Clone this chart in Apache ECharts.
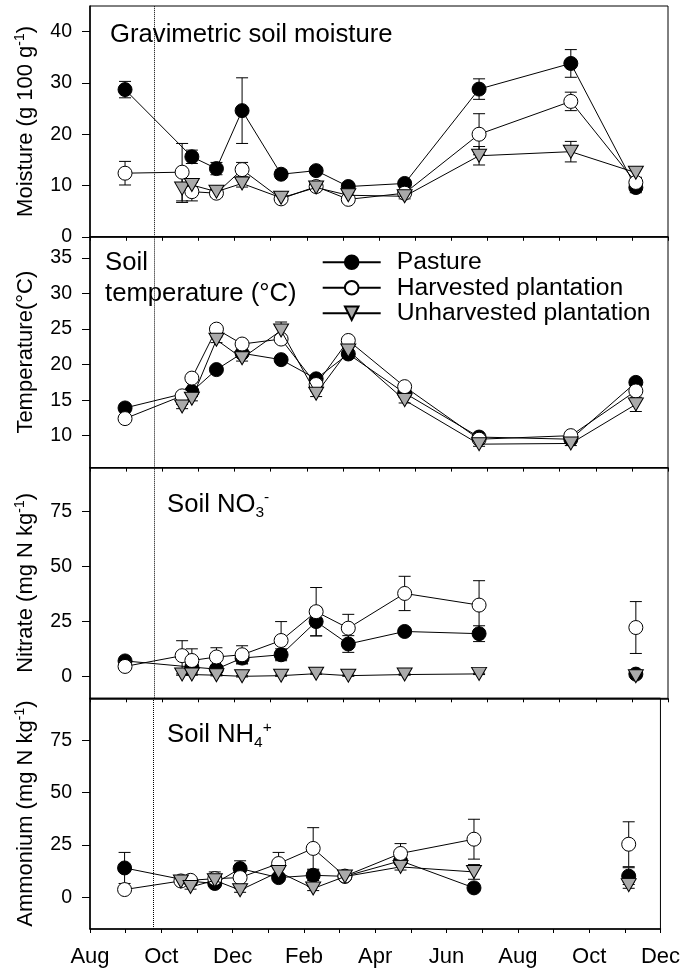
<!DOCTYPE html>
<html>
<head>
<meta charset="utf-8">
<script src="https://cdn.jsdelivr.net/npm/echarts@6/dist/echarts.min.js"></script>
<style>
  html, body { margin: 0; padding: 0; background: #fff; }
  #chart { width: 683px; height: 973px; }
</style>
</head>
<body>
<div id="chart"></div>
<script>
// Sampling times, in months after 1 August of the first year
const sampleMonths = [0.97, 2.55, 2.82, 3.5, 4.21, 5.29, 6.26, 7.15, 8.71, 10.77, 13.31, 15.11];
const monthLabels = ['Aug', 'Oct', 'Dec', 'Feb', 'Apr', 'Jun', 'Aug', 'Oct', 'Dec'];
const treatments = ['Pasture', 'Harvested plantation', 'Unharvested plantation'];
// Harvest date (dotted line)
const harvestMonth = 1.77;

// null = not sampled, '-' = break in the line
const moisturePasture      = [28.7, null, 15.6, 13.3, 24.6, 12.2, 12.9, 9.8, 10.4, 28.8, 33.8, 9.6];
const moistureHarvested    = [12.4, 12.6, 8.8, 8.5, 13.1, 7.4, 9.8, 7.3, 8.5, 20.0, 26.4, 10.6];
const moistureUnharvested  = [null, 9.4, 10.1, 8.8, 10.4, 7.6, 9.6, 8.1, 7.9, 15.8, 16.6, 12.5];
const moisturePastureErr     = [1.6, null, 1.3, 1.2, 6.4, 0.8, 0.7, 0.6, 0.6, 2.0, 2.7, 1.0];
const moistureHarvestedErr   = [2.3, 5.6, 1.8, 0.7, 1.4, 0.5, 0.6, 0.6, 0.5, 4.0, 1.8, 1.0];
const moistureUnharvestedErr = [null, 2.7, 0.8, 0.7, 0.7, 0.5, 0.5, 0.5, 0.5, 1.8, 2.0, 1.0];

const tempPasture      = [13.9, null, 16.2, 19.3, 21.6, 20.7, 18.0, 21.5, 16.0, 9.8, 9.5, 17.5];
const tempHarvested    = [12.4, 15.6, 18.1, 25.0, 22.9, 23.6, 17.2, 23.4, 16.9, 9.5, 10.0, 16.3];
const tempUnharvested  = [null, 14.1, 15.2, 23.5, 20.9, 24.8, 15.9, 22.0, 15.0, 8.8, 8.9, 14.4];
const tempPastureErr     = [0.4, null, 0.4, 0.4, 0.4, 0.4, 0.4, 0.4, 0.4, 0.3, 0.3, 0.5];
const tempHarvestedErr   = [0.3, 0.3, 0.3, 0.4, 0.4, 0.4, 0.4, 0.4, 0.4, 0.3, 0.3, 0.4];
const tempUnharvestedErr = [null, 0.3, 0.3, 0.4, 0.4, 1.2, 0.4, 0.4, 0.4, 0.3, 0.3, 1.0];

const nitratePasture      = [7.0, null, 4.2, 3.3, 8.3, 9.8, 24.9, 14.7, 20.4, 19.4, '-', 1.0];
const nitrateHarvested    = [4.5, 9.4, 7.2, 8.8, 9.8, 16.3, 29.4, 21.9, 37.7, 32.4, '-', 22.2];
const nitrateUnharvested  = [null, 0.8, 0.8, 0.5, 0.0, 0.3, 1.2, 0.3, 0.8, 1.1, '-', 0.0];
const nitratePastureErr     = [1.0, null, 1.5, 1.5, 2.6, 2.7, 6.5, 3.8, 1.5, 3.6, null, 0.8];
const nitrateHarvestedErr   = [0.8, 6.8, 5.3, 4.2, 4.1, 8.6, 11.0, 6.3, 7.8, 11.1, null, 11.8];
const nitrateUnharvestedErr = [null, 0.3, 0.3, 0.3, 0.3, 0.3, 0.3, 0.3, 0.3, 0.3, null, 0.3];

const ammoniumPasture      = [14.1, null, 7.8, 6.7, 13.8, 9.5, 10.6, 10.1, 17.5, 4.6, '-', 10.2];
const ammoniumHarvested    = [3.8, 7.9, 8.2, 9.0, 9.5, 16.2, 23.4, 10.2, 21.0, 27.8, '-', 25.4];
const ammoniumUnharvested  = [null, 7.6, 5.0, 8.2, 3.5, 12.2, 4.3, 10.0, 14.6, 12.2, '-', 5.9];
const ammoniumPastureErr     = [7.4, null, 1.0, 1.0, 3.7, 1.5, 2.5, 1.5, 1.5, 1.0, null, 4.0];
const ammoniumHarvestedErr   = [0.8, 1.0, 1.0, 3.2, 1.2, 5.3, 9.9, 1.5, 4.7, 9.5, null, 10.7];
const ammoniumUnharvestedErr = [null, 1.0, 1.0, 1.5, 1.0, 1.5, 1.0, 1.0, 1.5, 3.5, null, 1.5];

// Y-axis extents and labelled ticks per panel
const yExtents = [[0, 45], [5.5, 38], [-10, 95], [-15, 95]];
const yTickValues = [[0, 10, 20, 30, 40], [10, 15, 20, 25, 30, 35], [0, 25, 50, 75], [0, 25, 50, 75]];

const panels = [
  { values: [moisturePasture, moistureHarvested, moistureUnharvested],
    errors: [moisturePastureErr, moistureHarvestedErr, moistureUnharvestedErr],
    name: '{t|Moisture (g 100 g}{s|-1}{t|)}' },
  { values: [tempPasture, tempHarvested, tempUnharvested],
    errors: [tempPastureErr, tempHarvestedErr, tempUnharvestedErr],
    name: '{t|Temperature(°C)}' },
  { values: [nitratePasture, nitrateHarvested, nitrateUnharvested],
    errors: [nitratePastureErr, nitrateHarvestedErr, nitrateUnharvestedErr],
    name: '{t|Nitrate (mg N kg}{s|-1}{t|)}' },
  { values: [ammoniumPasture, ammoniumHarvested, ammoniumUnharvested],
    errors: [ammoniumPastureErr, ammoniumHarvestedErr, ammoniumUnharvestedErr],
    name: '{t|Ammonium (mg N kg}{s|-1}{t|)}' }
];

const FONT = '"Liberation Sans", Arial, Helvetica, sans-serif';
const gridTops = [6, 236.8, 467.5, 698.2];
const gridHeight = 230.8;

const markerStyles = [
  { symbol: 'circle', symbolSize: 14, symbolRotate: 0, fill: '#000000' },
  { symbol: 'circle', symbolSize: 14, symbolRotate: 0, fill: '#ffffff' },
  { symbol: 'triangle', symbolSize: [15, 13], symbolRotate: 180, fill: '#aaaaaa' }
];

function errorBarItem(params, api) {
  const x = api.value(0), y = api.value(1), e = api.value(2);
  const hi = api.coord([x, y + e]);
  const lo = api.coord([x, y - e]);
  const half = 6;
  const st = { stroke: '#000', lineWidth: 1 };
  return {
    type: 'group',
    children: [
      { type: 'line', shape: { x1: hi[0], y1: hi[1], x2: lo[0], y2: lo[1] }, style: st },
      { type: 'line', shape: { x1: hi[0] - half, y1: hi[1], x2: hi[0] + half, y2: hi[1] }, style: st },
      { type: 'line', shape: { x1: lo[0] - half, y1: lo[1], x2: lo[0] + half, y2: lo[1] }, style: st }
    ]
  };
}

const grids = [], xAxes = [], yAxes = [], series = [];

panels.forEach((p, gi) => {
  grids.push({
    left: 90, right: 15, top: gridTops[gi], height: gridHeight,
    show: true, borderColor: '#000', borderWidth: 1, backgroundColor: 'transparent'
  });
  xAxes.push({
    type: 'value', gridIndex: gi, min: 0, max: 16, interval: 2,
    axisLine: { show: true, onZero: false, lineStyle: { color: '#000', width: 1.5 } },
    axisTick: { show: true, inside: false, length: 4, lineStyle: { color: '#000', width: 1 } },
    minorTick: { show: true, splitNumber: 2, length: 4, lineStyle: { color: '#000', width: 1 } },
    splitLine: { show: false },
    minorSplitLine: { show: false },
    axisLabel: gi === 3 ? {
      show: true, margin: 17, fontSize: 22, fontFamily: FONT, color: '#000',
      formatter: v => monthLabels[Math.round(v / 2)] || ''
    } : { show: false }
  });
  yAxes.push({
    type: 'value', gridIndex: gi, min: yExtents[gi][0], max: yExtents[gi][1],
    axisLine: { show: true, onZero: false, lineStyle: { color: '#000', width: 1.5 } },
    axisTick: { show: true, inside: false, length: 8, customValues: yTickValues[gi], lineStyle: { color: '#000', width: 1 } },
    axisLabel: { show: true, customValues: yTickValues[gi], margin: 18, fontSize: 19.5, fontFamily: FONT, color: '#000' },
    splitLine: { show: false },
    name: p.name, nameLocation: 'middle', nameGap: 51,
    nameTextStyle: {
      color: '#000',
      rich: {
        t: { fontSize: 22, fontFamily: FONT, color: '#000', lineHeight: 26 },
        s: { fontSize: 14, fontFamily: FONT, color: '#000', lineHeight: 14, verticalAlign: 'top' }
      }
    }
  });

  // error bars beneath the markers
  p.errors.forEach((errs, ti) => {
    const data = [];
    sampleMonths.forEach((m, i) => {
      const v = p.values[ti][i];
      if (typeof v === 'number' && errs[i] != null) data.push([m, v, errs[i]]);
    });
    series.push({
      type: 'custom', name: treatments[ti] + ' SE', xAxisIndex: gi, yAxisIndex: gi,
      renderItem: errorBarItem, encode: { x: 0, y: 1 }, data: data, z: 2, silent: true
    });
  });

  p.values.forEach((vals, ti) => {
    const ms = markerStyles[ti];
    const data = [];
    sampleMonths.forEach((m, i) => { if (vals[i] !== null) data.push([m, vals[i]]); });
    const s = {
      type: 'line', name: treatments[ti], xAxisIndex: gi, yAxisIndex: gi,
      data: data, connectNulls: false, z: 3 + ti,
      symbol: ms.symbol, symbolSize: ms.symbolSize, symbolRotate: ms.symbolRotate,
      showSymbol: true, showAllSymbol: true,
      lineStyle: { color: '#000', width: 1 },
      itemStyle: { color: ms.fill, borderColor: '#000', borderWidth: 1 },
      emphasis: { disabled: true }
    };
    if (ti === 0) {
      s.markLine = {
        silent: true, symbol: 'none', label: { show: false },
        lineStyle: { color: '#000', type: 'dotted', width: 1 },
        data: [{ xAxis: harvestMonth }]
      };
    }
    series.push(s);
  });
});

const TITLE_SIZE = 25.7;
const richTitle = {
  m: { fontSize: TITLE_SIZE, fontFamily: FONT, color: '#000', lineHeight: 31 },
  sub: { fontSize: 15.5, fontFamily: FONT, color: '#000', lineHeight: 15, verticalAlign: 'bottom' },
  sup: { fontSize: 15.5, fontFamily: FONT, color: '#000', lineHeight: 15, verticalAlign: 'top' }
};

const option = {
  animation: false,
  backgroundColor: '#fff',
  grid: grids,
  xAxis: xAxes,
  yAxis: yAxes,
  series: series,
  legend: {
    data: treatments,
    orient: 'vertical',
    left: 321.7, top: 249.5, padding: 0,
    itemWidth: 58, itemHeight: 17, itemGap: 0,
    textStyle: { fontSize: 24.7, fontFamily: FONT, color: '#000', lineHeight: 25.5, padding: [0, 0, 0, 11] },
    selectedMode: false
  },
  graphic: [
    { type: 'text', x: 110, y: 34.5, silent: true,
      style: { text: 'Gravimetric soil moisture', font: TITLE_SIZE + 'px ' + FONT, fill: '#000', verticalAlign: 'middle' } },
    { type: 'text', x: 105, y: 262.5, silent: true,
      style: { text: 'Soil', font: TITLE_SIZE + 'px ' + FONT, fill: '#000', verticalAlign: 'middle' } },
    { type: 'text', x: 105, y: 293.5, silent: true,
      style: { text: 'temperature (°C)', font: TITLE_SIZE + 'px ' + FONT, fill: '#000', verticalAlign: 'middle' } },
    { type: 'text', x: 167, y: 505, silent: true,
      style: { text: '{m|Soil NO}{sub|3}{sup|-}', rich: richTitle, verticalAlign: 'middle' } },
    { type: 'text', x: 167, y: 735, silent: true,
      style: { text: '{m|Soil NH}{sub|4}{sup|+}', rich: richTitle, verticalAlign: 'middle' } }
  ]
};

const chart = echarts.init(document.getElementById('chart'), null, { renderer: 'canvas' });
chart.setOption(option);
</script>
</body>
</html>
